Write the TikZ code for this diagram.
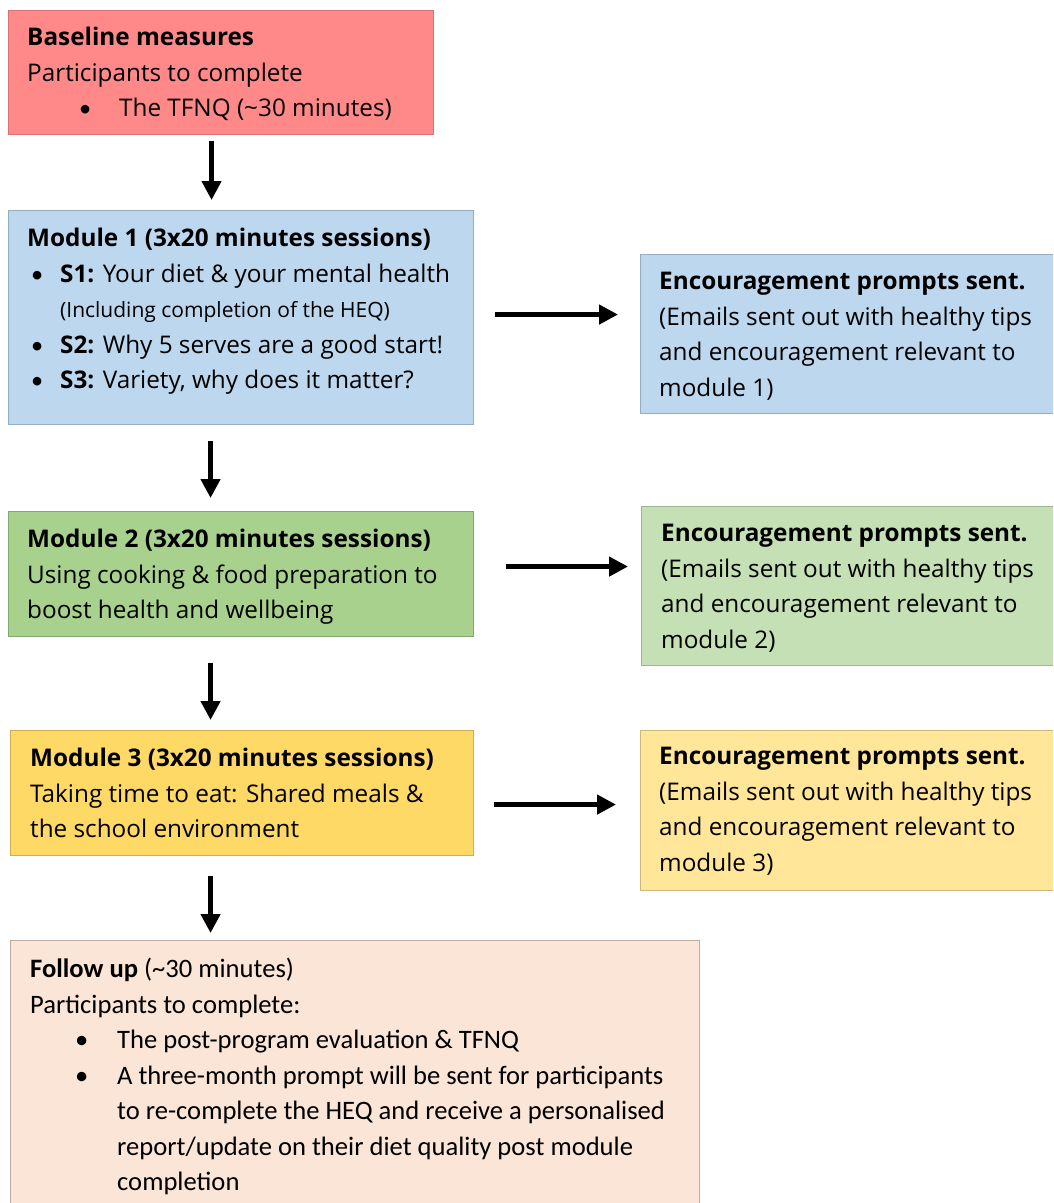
\documentclass[tikz,border=0pt]{standalone}
\usepackage{fontspec}
\setmainfont{Open Sans}
\newfontfamily\calib{Carlito}
\usetikzlibrary{arrows.meta,positioning}
\definecolor{BaseRed}{RGB}{255,137,137}
\definecolor{ModBlue}{RGB}{189,215,238}
\definecolor{ModGreen}{RGB}{169,209,142}
\definecolor{EncGreen}{RGB}{197,224,180}
\definecolor{ModGold}{RGB}{255,217,102}
\definecolor{EncGold}{RGB}{255,230,153}
\definecolor{FollowPeach}{RGB}{251,229,214}
\tikzset{
  box/.style={rectangle,anchor=north west,inner sep=0pt,line width=1.1pt},
  rbox/.style={box,fill=BaseRed,draw=BaseRed!85!black},
  bbox/.style={box,fill=ModBlue,draw=ModBlue!80!black},
  gbox/.style={box,fill=ModGreen,draw=ModGreen!80!black},
  lgbox/.style={box,fill=EncGreen,draw=EncGreen!80!black},
  ybox/.style={box,fill=ModGold,draw=ModGold!80!black},
  lybox/.style={box,fill=EncGold,draw=EncGold!80!black},
  pbox/.style={box,fill=FollowPeach,draw=FollowPeach!75!black},
  txt/.style={anchor=north west,inner sep=0pt,align=left,
              font=\fontsize{24.3}{35.5}\selectfont},
  arr/.style={-{Triangle[length=19pt,width=19pt]},line width=4.5pt,black},
}
\newcommand{\bul}[2]{\hspace*{#1}\makebox[#2][l]{{\calib\textbullet}}}

\begin{document}
\begin{tikzpicture}[x=1pt,y=-1pt]
  \clip (0,0) rectangle (1053,1203);
  % boxes
  \node[rbox,minimum width=425pt,minimum height=124pt] (base) at (8,10) {};
  \node[bbox,minimum width=465pt,minimum height=214pt] (mod1) at (8,210) {};
  \node[bbox,minimum width=420pt,minimum height=159pt] (enc1) at (640,254) {};
  \node[gbox,minimum width=465pt,minimum height=125pt] (mod2) at (8,511) {};
  \node[lgbox,minimum width=419pt,minimum height=159pt] (enc2) at (641,506) {};
  \node[ybox,minimum width=463pt,minimum height=125pt] (mod3) at (10,730) {};
  \node[lybox,minimum width=420pt,minimum height=160pt] (enc3) at (640,730) {};
  \node[pbox,minimum width=689pt,minimum height=280pt] (follow) at (10,940) {};

  % texts
  \node[txt] (tbase) at ([xshift=19pt,yshift=-17pt]base.north west)
    {\textbf{Baseline measures}\\
     Participants to complete\\
     \bul{52pt}{40pt}The TFNQ (\textasciitilde30 minutes)};
  \node[txt] (tmod1) at ([xshift=19pt,yshift=-18pt]mod1.north west)
    {\textbf{Module 1 (3x20 minutes sessions)}\\
     \bul{4pt}{29pt}\textbf{S1:} Your diet \& your mental health\\
     \hspace*{33pt}{\fontsize{21}{35.5}\selectfont(Including completion of the HEQ)}\\
     \bul{4pt}{29pt}\textbf{S2:} Why 5 serves are a good start!\\
     \bul{4pt}{29pt}\textbf{S3:} Variety, why does it matter?};
  \node[txt] (tenc1) at ([xshift=19pt,yshift=-18pt]enc1.north west)
    {\textbf{Encouragement prompts sent.}\\
     (Emails sent out with healthy tips\\
     and encouragement relevant to\\
     module 1)};
  \node[txt] (tmod2) at ([xshift=19pt,yshift=-18pt]mod2.north west)
    {\textbf{Module 2 (3x20 minutes sessions)}\\
     Using cooking \& food preparation to\\
     boost health and wellbeing};
  \node[txt] (tenc2) at ([xshift=20pt,yshift=-18pt]enc2.north west)
    {\textbf{Encouragement prompts sent.}\\
     (Emails sent out with healthy tips\\
     and encouragement relevant to\\
     module 2)};
  \node[txt] (tmod3) at ([xshift=20pt,yshift=-18pt]mod3.north west)
    {\textbf{Module 3 (3x20 minutes sessions)}\\
     Taking time to eat: Shared meals \&\\
     the school environment};
  \node[txt] (tenc3) at ([xshift=19pt,yshift=-17pt]enc3.north west)
    {\textbf{Encouragement prompts sent.}\\
     (Emails sent out with healthy tips\\
     and encouragement relevant to\\
     module 3)};
  \node[txt,font=\calib\fontsize{26.6}{35.5}\selectfont] (tfollow)
    at ([xshift=20pt,yshift=-18pt]follow.north west)
    {\textbf{Follow up} (\textasciitilde30 minutes)\\
     Participants to complete:\\
     \bul{45pt}{42pt}The post-program evaluation \& TFNQ\\
     \bul{45pt}{42pt}A three-month prompt will be sent for participants\\
     \hspace*{87pt}to re-complete the HEQ and receive a personalised\\
     \hspace*{87pt}report/update on their diet quality post module\\
     \hspace*{87pt}completion};

  % arrows
  \draw[arr] ([xshift=-9.5pt,yshift=-6pt]base.south) -- ([xshift=-29.5pt,yshift=10pt]mod1.north);
  \draw[arr] ([xshift=-30.5pt,yshift=-16pt]mod1.south) -- ([xshift=-30.5pt,yshift=13pt]mod2.north);
  \draw[arr] ([xshift=-30.5pt,yshift=-26pt]mod2.south) -- ([xshift=-31.5pt,yshift=10pt]mod3.north);
  \draw[arr] ([xshift=-31.5pt,yshift=-20pt]mod3.south) -- ([xshift=-144.5pt,yshift=7pt]follow.north);
  \draw[arr] ([xshift=21pt,yshift=3pt]mod1.east) -- ([xshift=-22pt,yshift=19.5pt]enc1.west);
  \draw[arr] ([xshift=32pt,yshift=7.5pt]mod2.east) -- ([xshift=-13pt,yshift=19.5pt]enc2.west);
  \draw[arr] ([xshift=20pt,yshift=-11.5pt]mod3.east) -- ([xshift=-24pt,yshift=6pt]enc3.west);
\end{tikzpicture}
\end{document}
